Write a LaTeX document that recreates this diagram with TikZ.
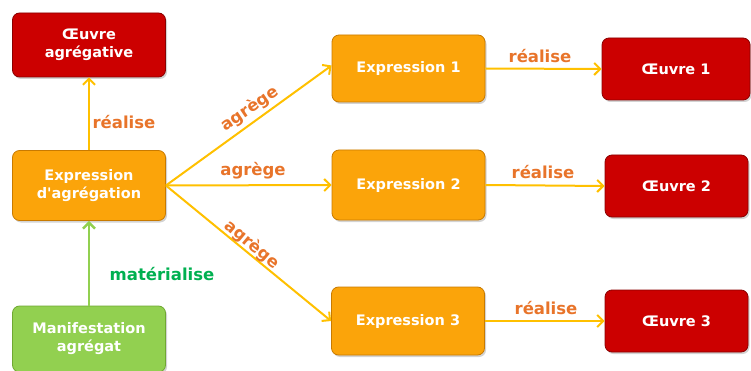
\documentclass[tikz,border=0pt]{standalone}
\usepackage{fontspec}
\setmainfont{DejaVu Sans}
\usetikzlibrary{shadows,arrows.meta}
\definecolor{orbox}{HTML}{FBA40A}
\definecolor{orline}{HTML}{C87A00}
\definecolor{redbox}{HTML}{CC0000}
\definecolor{redline}{HTML}{8A0000}
\definecolor{grbox}{HTML}{92D050}
\definecolor{grline}{HTML}{6FA832}
\definecolor{arr}{HTML}{FFC000}
\definecolor{lblor}{HTML}{E8742A}
\definecolor{lblgr}{HTML}{00B050}
\tikzset{
  box/.style={rounded corners=7pt, line width=0.8pt, text=white, font=\fontsize{14.5}{18}\selectfont\bfseries, align=center, minimum height=64pt, drop shadow={shadow xshift=1.5pt, shadow yshift=-2pt, opacity=0.35}},
  obox/.style={box, fill=orbox, draw=orline, minimum width=153pt},
  rbox/.style={box, fill=redbox, draw=redline},
  gbox/.style={box, fill=grbox, draw=grline, minimum width=153pt},
  link/.style={draw=arr, line width=2pt, -{Straight Barb[length=6pt,width=12pt,line width=2pt]}},
  glink/.style={draw=grbox, line width=2.5pt, -{Straight Barb[length=6pt,width=12pt,line width=2.5pt]}},
  lbl/.style={text=lblor, font=\fontsize{16.5}{18}\selectfont\bfseries, inner sep=1pt},
  glbl/.style={text=lblgr, font=\fontsize{16.5}{18}\selectfont\bfseries, inner sep=1pt}
}
\begin{document}
\begin{tikzpicture}[x=1pt,y=-1pt]
\useasboundingbox (0,0) rectangle (751,371);
\node[rbox, minimum width=153pt] (oa) at (89,45) {Œuvre\\agrégative};
\node[obox, minimum height=70pt] (ea) at (89,185.5) {Expression\\d\textquotesingle agrégation};
\node[gbox, minimum height=66pt] (ma) at (89,339) {Manifestation\\agrégat};
\node[obox, minimum height=67pt] (e1) at (408.5,68.5) {Expression 1};
\node[obox, minimum height=70pt] (e2) at (408.5,185) {Expression 2};
\node[obox, minimum height=68pt] (e3) at (408,321) {Expression 3};
\node[rbox, minimum width=148pt, minimum height=62pt] (o1) at (676,69) {Œuvre 1};
\node[rbox, minimum width=143pt, minimum height=62pt] (o2) at (676.5,186) {Œuvre 2};
\node[rbox, minimum width=143pt, minimum height=62pt] (o3) at (676.5,321) {Œuvre 3};
\coordinate (hub) at (ea.east);
\draw[link] (ea.north) -- (oa.south);
\draw[glink] (ma.north) -- (ea.south);
\draw[link] (hub) -- ([yshift=3pt]e1.west);
\draw[link] (hub) -- (e2.west);
\draw[link] (hub) -- (e3.west);
\draw[link] (e1.east) -- (o1.west);
\draw[link] (e2.east) -- (o2.west);
\draw[link] (e3.east) -- (o3.west);
\node[lbl] (l0) at (124,122) {réalise};
\node[glbl] (l1) at (162,274) {matérialise};
\node[lbl, rotate=34] (l2) at (250,109) {agrège};
\node[lbl] (l3) at (253,171) {agrège};
\node[lbl, rotate=-40] (l4) at (252,245) {agrège};
\node[lbl] (l5) at (540,56) {réalise};
\node[lbl] (l6) at (543,172) {réalise};
\node[lbl] (l7) at (546,308) {réalise};
\end{tikzpicture}
\end{document}
